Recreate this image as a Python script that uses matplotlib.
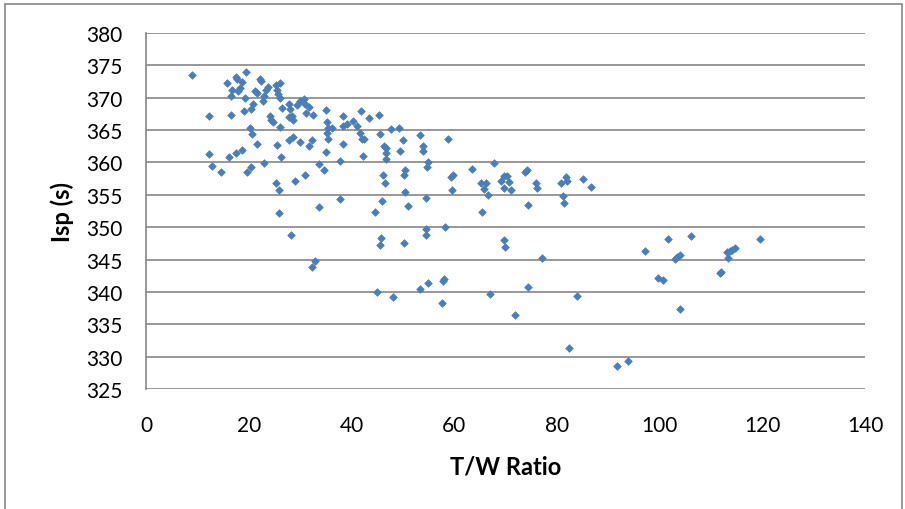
import matplotlib
matplotlib.use('Agg')
import matplotlib.pyplot as plt
from matplotlib.patches import Rectangle

# T/W ratio vs specific impulse
tw_ratio = [
    8.9, 12.2, 15.7, 17.5, 17.7, 19.5, 16.8, 17.9, 18.6, 18.3, 16.6, 19.2, 16.5, 19.0,
    20.5, 20.9, 21.2, 21.6, 20.3, 20.7, 22.2, 22.4, 22.7, 23.0, 23.4, 23.7, 24.2, 24.4,
    24.8, 25.3, 26.1, 25.5, 25.7, 26.1, 26.4, 26.1, 27.8, 28.1, 27.8, 28.4, 28.7, 29.4,
    30.0, 30.7, 31.0, 31.8, 31.1, 32.6, 27.9, 28.7, 30.0, 32.3, 31.8, 12.3, 16.1, 17.5,
    18.7, 21.7, 25.6, 26.2,
    12.9, 14.6, 19.7, 20.5, 22.9, 25.3, 25.8, 29.1, 30.9, 25.8, 28.3, 33.7, 33.7, 32.4, 32.9,
    35.0, 35.2, 35.5, 36.3, 35.2, 35.5, 38.3, 38.3, 39.1, 40.3, 41.1, 41.9, 43.5, 45.4,
    41.7, 42.0, 42.4, 38.3, 35.0, 42.2, 45.6, 47.8, 49.3, 50.0, 53.4, 58.9, 46.4, 46.8,
    46.8, 49.4, 53.9, 54.0,
    34.7, 37.8, 46.8, 55.0, 54.7, 46.1, 46.6, 50.5, 50.2, 50.5, 46.0, 44.6, 51.1, 54.6,
    37.7, 59.7, 59.4, 63.5, 59.5, 65.2, 66.3, 65.9, 66.5, 65.4, 58.3, 54.5, 54.5, 45.7,
    45.5, 50.2, 58.0,
    44.9, 48.1, 53.3, 55.0, 57.9, 57.6, 66.9,
    67.8, 69.1, 69.7, 70.3, 70.7, 69.8, 71.0, 73.7, 74.2, 76.0, 76.1, 74.3, 80.8, 81.7,
    81.9, 81.2, 81.3, 85.1, 86.7, 69.7, 69.9,
    77.2, 97.2, 99.7, 74.3, 84.0, 71.9, 82.3, 91.7, 93.8,
    101.7, 106.1, 103.1, 103.4, 103.9, 100.6, 104.0, 112.0, 111.7, 113.1, 113.3, 113.8,
    114.2, 114.7, 119.6,
]
isp = [
    373.5, 367.1, 372.2, 373.2, 372.9, 373.9, 371.2, 371.1, 372.4, 371.5, 370.3, 370.0, 367.3, 367.9,
    368.3, 369.0, 371.1, 370.8, 365.4, 364.4, 372.9, 372.6, 369.5, 370.3, 371.2, 371.7, 367.1, 366.6,
    366.3, 372.0, 372.3, 371.2, 370.5, 369.9, 368.4, 365.5, 369.0, 368.3, 367.0, 367.2, 366.6, 368.9,
    369.5, 369.8, 369.0, 368.5, 367.7, 367.3, 363.5, 364.0, 363.1, 363.5, 362.5, 361.3, 360.8, 361.5,
    362.0, 362.8, 362.7, 360.9,
    359.4, 358.6, 358.5, 359.3, 359.9, 356.8, 355.8, 357.2, 358.1, 352.2, 348.8, 359.8, 353.1, 343.8, 344.7,
    368.1, 366.3, 365.4, 365.3, 364.5, 363.7, 367.1, 365.7, 365.9, 366.4, 365.7, 367.9, 366.8, 367.3,
    364.5, 363.7, 363.6, 362.8, 361.6, 361.0, 364.4, 365.2, 365.4, 363.5, 364.2, 363.6, 362.6, 362.3,
    361.5, 361.7, 362.6, 361.8,
    358.9, 360.2, 360.6, 360.0, 359.3, 358.0, 356.9, 358.9, 358.1, 355.5, 354.1, 352.3, 353.2, 354.5,
    354.3, 358.1, 357.7, 359.0, 355.8, 356.9, 356.9, 355.9, 354.9, 352.3, 350.1, 349.7, 348.8, 348.4,
    347.2, 347.5, 342.0,
    340.0, 339.2, 340.4, 341.4, 341.7, 338.3, 339.7,
    359.9, 357.1, 357.9, 357.9, 357.0, 356.0, 355.7, 358.6, 358.8, 356.9, 356.0, 353.5, 356.8, 357.8,
    357.1, 354.8, 353.7, 357.5, 356.2, 348.0, 347.0,
    345.3, 346.3, 342.1, 340.8, 339.4, 336.4, 331.3, 328.6, 329.3,
    348.2, 348.6, 345.1, 345.4, 345.7, 341.9, 337.3, 343.1, 342.9, 346.1, 345.3, 346.3,
    346.5, 346.8, 348.2,
]

x_ticks = [0, 20, 40, 60, 80, 100, 120, 140]
y_ticks = [325, 330, 335, 340, 345, 350, 355, 360, 365, 370, 375, 380]

plt.rcParams['font.family'] = ['Lato', 'DejaVu Sans']

fig = plt.figure(figsize=(9.05, 5.10), dpi=100)
ax = fig.add_axes([146 / 905, 1 - 390 / 510, (865 - 146) / 905, (390 - 34) / 510])

# outer chart frame like the spreadsheet chart area
fig.patches.append(Rectangle((5 / 905, -0.05), 897 / 905, 1.05 - 5 / 510,
                             transform=fig.transFigure, fill=False,
                             edgecolor='#868686', lw=1.2))

ax.scatter(tw_ratio, isp, marker='D', s=15, color='#4a7ebb', edgecolors='#4a7ebb',
           linewidths=0.5, zorder=3)

ax.set_xlim(0, 140)
ax.set_ylim(325, 380)
ax.set_xticks(x_ticks)
ax.set_yticks(y_ticks)
ax.grid(axis='y', color='#868686', lw=1.2)
ax.tick_params(length=0, labelsize=15)
ax.tick_params(axis='y', pad=17)
ax.tick_params(axis='x', pad=19)

for side in ['top', 'right', 'bottom']:
    ax.spines[side].set_visible(False)
ax.spines['left'].set_color('#868686')
ax.spines['left'].set_linewidth(1.2)

ax.set_xlabel('T/W Ratio', fontsize=17, fontweight='bold', labelpad=14)
ax.set_ylabel('Isp (s)', fontsize=17, fontweight='bold', labelpad=9)

fig.savefig('out.png', dpi=100)
